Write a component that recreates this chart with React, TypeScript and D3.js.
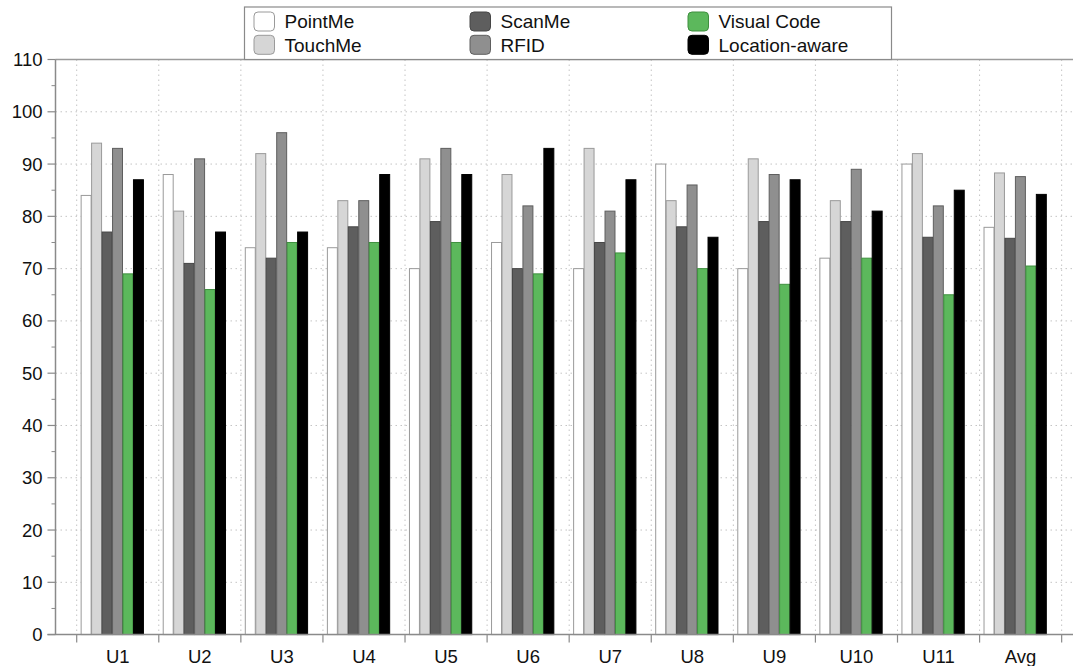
import React from "react";
import * as d3 from "d3";

const categories = ["U1", "U2", "U3", "U4", "U5", "U6", "U7", "U8", "U9", "U10", "U11", "Avg"];
const seriesNames = ["PointMe", "TouchMe", "ScanMe", "RFID", "Visual Code", "Location-aware"];
const pointMe = [84, 88, 74, 74, 70, 75, 70, 90, 70, 72, 90, 77.9];
const touchMe = [94, 81, 92, 83, 91, 88, 93, 83, 91, 83, 92, 88.3];
const scanMe = [77, 71, 72, 78, 79, 70, 75, 78, 79, 79, 76, 75.8];
const rfid = [93, 91, 96, 83, 93, 82, 81, 86, 88, 89, 82, 87.6];
const visualCode = [69, 66, 75, 75, 75, 69, 73, 70, 67, 72, 65, 70.5];
const locationAware = [87, 77, 77, 88, 88, 93, 87, 76, 87, 81, 85, 84.2];
const yTicks = [0, 10, 20, 30, 40, 50, 60, 70, 80, 90, 100, 110];
const yMinorTicks = [5, 15, 25, 35, 45, 55, 65, 75, 85, 95, 105];

const seriesValues = [pointMe, touchMe, scanMe, rfid, visualCode, locationAware];
const fills = ["#ffffff", "#d6d6d6", "#5e5e5e", "#8f8f8f", "#5cb85c", "#000000"];
const strokes = ["#9a9a9a", "#9a9a9a", "#464646", "#5e5e5e", "#3f8f3f", "#000000"];

const W = 1073;
const H = 666;
const axisX = 55.5;
const plotTop = 59.5;
const plotRight = 1073;
const groupStart = 76.7;
const groupW = 82.08;

export default function App() {
  const y = d3.scaleLinear().domain([0, 110]).range([634.6, 59.5]);
  const x = d3
    .scaleBand<string>()
    .domain(categories)
    .range([groupStart, groupStart + groupW * categories.length])
    .padding(0);
  const gw = x.bandwidth();
  const barW = gw * 0.1275;
  const xs = d3
    .scaleBand<string>()
    .domain(seriesNames)
    .range([gw * 0.048, gw * 0.048 + barW * seriesNames.length])
    .padding(0);
  const y0 = y(0);
  const boundaries = categories.map((c) => x(c) as number).concat([groupStart + groupW * categories.length]);

  const legendCols = [254, 470, 688];
  const legendRows = [21.5, 44.8];

  return (
    <svg
      width={W}
      height={H}
      style={{ position: "absolute", left: 0, top: 0, background: "#fff" }}
      fontFamily="'Liberation Sans', Arial, Helvetica, sans-serif"
    >
      {/* grid */}
      {yTicks
        .filter((t) => t > 0)
        .map((t) => (
          <line
            key={"gy" + t}
            x1={axisX}
            x2={plotRight}
            y1={y(t)}
            y2={y(t)}
            stroke="#c4c4c4"
            strokeWidth={1}
            strokeDasharray="1.5,3.5"
          />
        ))}
      {boundaries.map((b, i) => (
        <line
          key={"gx" + i}
          x1={b}
          x2={b}
          y1={plotTop}
          y2={y0}
          stroke="#c4c4c4"
          strokeWidth={1}
          strokeDasharray="1.5,3.5"
        />
      ))}

      {/* bars */}
      {categories.map((c, ci) => (
        <g key={c} transform={`translate(${x(c)},0)`}>
          {seriesNames.map((s, si) => {
            const v = seriesValues[si][ci];
            return (
              <rect
                key={s}
                x={(xs(s) as number) + 0.5}
                y={y(v)}
                width={xs.bandwidth() - 0.5}
                height={y0 - y(v)}
                fill={fills[si]}
                stroke={strokes[si]}
                strokeWidth={1}
              />
            );
          })}
        </g>
      ))}

      {/* frame top */}
      <line x1={axisX} x2={plotRight} y1={plotTop} y2={plotTop} stroke="#9a9a9a" strokeWidth={1.5} />

      {/* y axis */}
      <line x1={axisX} x2={axisX} y1={plotTop} y2={y0} stroke="#8a8a8a" strokeWidth={1.5} />
      {yTicks.map((t) => (
        <g key={"yt" + t}>
          <line x1={axisX - 8} x2={axisX} y1={y(t)} y2={y(t)} stroke="#8a8a8a" strokeWidth={1.2} />
          <text x={42.5} y={y(t)} dy="0.35em" textAnchor="end" fontSize={18.5} fill="#111">
            {t}
          </text>
        </g>
      ))}
      {yMinorTicks.map((t) => (
        <line key={"ym" + t} x1={axisX - 4} x2={axisX} y1={y(t)} y2={y(t)} stroke="#8a8a8a" strokeWidth={1} />
      ))}

      {/* x axis */}
      <line x1={axisX - 8} x2={plotRight} y1={y0} y2={y0} stroke="#8a8a8a" strokeWidth={1.5} />
      {boundaries.map((b, i) => (
        <line key={"xt" + i} x1={b} x2={b} y1={y0} y2={y0 + 8} stroke="#8a8a8a" strokeWidth={1.2} />
      ))}
      {categories.map((c) => (
        <text
          key={"xl" + c}
          x={(x(c) as number) + gw / 2}
          y={663}
          textAnchor="middle"
          fontSize={18.5}
          fill="#111"
        >
          {c}
        </text>
      ))}

      {/* legend */}
      <rect x={244.5} y={7} width={647} height={52.5} fill="#fff" stroke="#8a8a8a" strokeWidth={1.2} />
      {seriesNames.map((s, si) => {
        const col = Math.floor(si / 2);
        const row = si % 2;
        const lx = legendCols[col];
        const ly = legendRows[row];
        return (
          <g key={"lg" + s}>
            <rect
              x={lx}
              y={ly - 9.5}
              width={20.5}
              height={19}
              rx={4}
              ry={4}
              fill={fills[si]}
              stroke={strokes[si]}
              strokeWidth={1}
            />
            <text x={lx + 30.5} y={ly} dy="0.36em" fontSize={19} fill="#111">
              {s}
            </text>
          </g>
        );
      })}
    </svg>
  );
}
